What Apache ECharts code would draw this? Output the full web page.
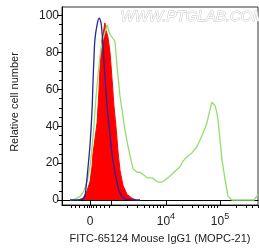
<!DOCTYPE html>
<html>
<head>
<meta charset="utf-8">
<script src="https://cdn.jsdelivr.net/npm/echarts@6/dist/echarts.min.js"></script>
<style>
  html, body { margin: 0; padding: 0; background: #fff; }
  #chart { width: 259px; height: 251px; }
</style>
</head>
<body>
<div id="chart"></div>
<script>
// x values are display channels (0..1000) on the biexponential FITC scale
const blueCh    = [41, 71, 107, 117, 122, 133, 143, 153, 158, 163, 168, 179, 189, 199, 204, 209, 219, 230, 240, 250, 260, 276, 291, 306, 327, 398];
const blueCount = [0, 0, 0.5, 2, 6, 18, 30, 48, 63, 77, 87, 95, 98.5, 96, 91, 84, 67, 51, 40, 30, 21, 12, 5, 2, 0.3, 0];

const redCh    = [82, 107, 128, 143, 153, 158, 168, 179, 189, 194, 199, 204, 209, 214, 219, 224, 230, 235, 245, 255, 265, 276, 286, 296, 311, 332, 357, 378];
const redCount = [0, 1, 5, 10, 18, 25, 33, 42, 60, 72, 80, 87, 90, 93, 96, 92, 90, 88, 80, 66, 51, 39, 26, 16, 8, 3, 1, 0];

const greenCh    = [41, 66, 92, 112, 128, 143, 153, 163, 173, 184, 194, 204, 214, 224, 230, 240, 250, 260, 270, 281, 296, 306, 321, 337, 347, 362, 383, 398, 413, 434, 459, 485, 500, 515, 541, 566, 602, 617, 638, 663, 689, 704, 719, 740, 755, 765, 781, 791, 796, 806, 816, 832, 847, 867, 980, 990, 1000];
const greenCount = [0, 0.5, 2, 5, 10, 18, 28, 40, 55, 68, 78, 85, 89, 93, 95, 91, 89, 89, 86, 72, 56, 49, 38, 29, 24, 17, 15, 15, 14, 12, 12, 10, 9.5, 10, 12, 14.5, 18, 21, 23.5, 25.5, 29, 32.5, 36, 42, 49, 53, 51, 47, 43, 33, 22, 11, 2, 0, 0, 1.5, 3];

// axis ticks
const xMajorCh = [143, 250, 530, 806];
const xLabelCh = [143, 530, 806];
const xLabels  = ['{n|0}', '{n|10}{s|4}', '{n|10}{s|5}'];
const decadeCh = [[250, 280], [530, 276], [806, 276]];
const yTicks = [0, 20, 40, 60, 80, 100];
const yMinor = [5, 10, 15, 25, 30, 35, 45, 50, 55, 65, 70, 75, 85, 90, 95];

const xMinorCh = [];
[-900, -700, -500, -300, -150, -50, 50, 150, 300, 500, 700, 900].forEach(function (v) {
    xMinorCh.push(Math.round(143 + v * 0.107));
});
decadeCh.forEach(function (d) {
    for (let k = 2; k <= 9; k++) {
        const c = Math.round(d[0] + d[1] * Math.log10(k));
        if (c <= 1000) xMinorCh.push(c);
    }
});

function zip(a, b) {
    return a.map(function (v, i) { return [v, b[i]]; });
}

const chart = echarts.init(document.getElementById('chart'));
const font = 'Liberation Sans, Arial, sans-serif';

const option = {
    animation: false,
    grid: {
        left: 62, right: 1, top: 7, bottom: 46,
        show: true, borderColor: '#333', borderWidth: 1,
        containLabel: false, outerBoundsMode: 'none'
    },
    graphic: [{
        type: 'text',
        left: 120, top: 9,
        style: {
            text: 'WWW.PTGLAB.COM',
            font: 'italic 15px ' + font,
            fill: '#fff', stroke: '#c8c8c8', lineWidth: 1
        }
    }],
    xAxis: [{
        type: 'value', min: 0, max: 1000,
        name: 'FITC-65124 Mouse IgG1 (MOPC-21)',
        nameLocation: 'middle', nameGap: 28,
        nameTextStyle: { fontFamily: font, fontSize: 11, color: '#222' },
        splitLine: { show: false },
        axisLine: { lineStyle: { color: '#000' } },
        axisTick: { customValues: xMajorCh, length: 5, lineStyle: { color: '#000' } },
        axisLabel: {
            customValues: xLabelCh,
            margin: 7,
            formatter: function (v) { return xLabels[xLabelCh.indexOf(v)] || ''; },
            rich: {
                n: { fontFamily: font, fontSize: 12, color: '#222', lineHeight: 16, verticalAlign: 'bottom' },
                s: { fontFamily: font, fontSize: 9, color: '#222', lineHeight: 16, verticalAlign: 'top' }
            }
        }
    }, {
        type: 'value', min: 0, max: 1000, position: 'bottom', offset: 0,
        splitLine: { show: false },
        axisLine: { show: true, onZero: false, lineStyle: { color: '#000' } },
        axisLabel: { show: true, customValues: xMinorCh, formatter: function () { return ''; } },
        axisTick: { show: true, customValues: xMinorCh, length: 3, lineStyle: { color: '#000' } }
    }],
    yAxis: [{
        type: 'value', min: -2.7, max: 104.6,
        name: 'Relative cell number',
        nameLocation: 'middle', nameGap: 42,
        nameTextStyle: { fontFamily: font, fontSize: 11, color: '#222', padding: [0, 0, 0, 8] },
        splitLine: { show: false },
        axisLine: { lineStyle: { color: '#000' } },
        axisTick: { customValues: yTicks, length: 5, lineStyle: { color: '#000' } },
        axisLabel: { customValues: yTicks, margin: 3, fontFamily: font, fontSize: 12, color: '#222' }
    }, {
        type: 'value', min: -2.7, max: 104.6, position: 'left', offset: 0,
        splitLine: { show: false },
        axisLine: { show: true, onZero: false, lineStyle: { color: '#000' } },
        axisLabel: { show: true, customValues: yMinor, formatter: function () { return ''; } },
        axisTick: { show: true, customValues: yMinor, length: 3, lineStyle: { color: '#000' } }
    }],
    series: [{
        type: 'line', data: zip(redCh, redCount),
        showSymbol: false,
        lineStyle: { color: '#ff0000', width: 1 },
        areaStyle: { color: '#ff0000', opacity: 1 },
        z: 2
    }, {
        type: 'line', data: zip(greenCh, greenCount),
        showSymbol: false,
        lineStyle: { color: '#8fe06a', width: 1.3 },
        z: 3
    }, {
        type: 'line', data: zip(blueCh, blueCount),
        showSymbol: false, smooth: 0.3,
        lineStyle: { color: '#25259c', width: 1.3 },
        z: 4
    }, {
        type: 'line', xAxisIndex: 1, yAxisIndex: 1, data: [], silent: true
    }]
};

chart.setOption(option);
</script>
</body>
</html>
